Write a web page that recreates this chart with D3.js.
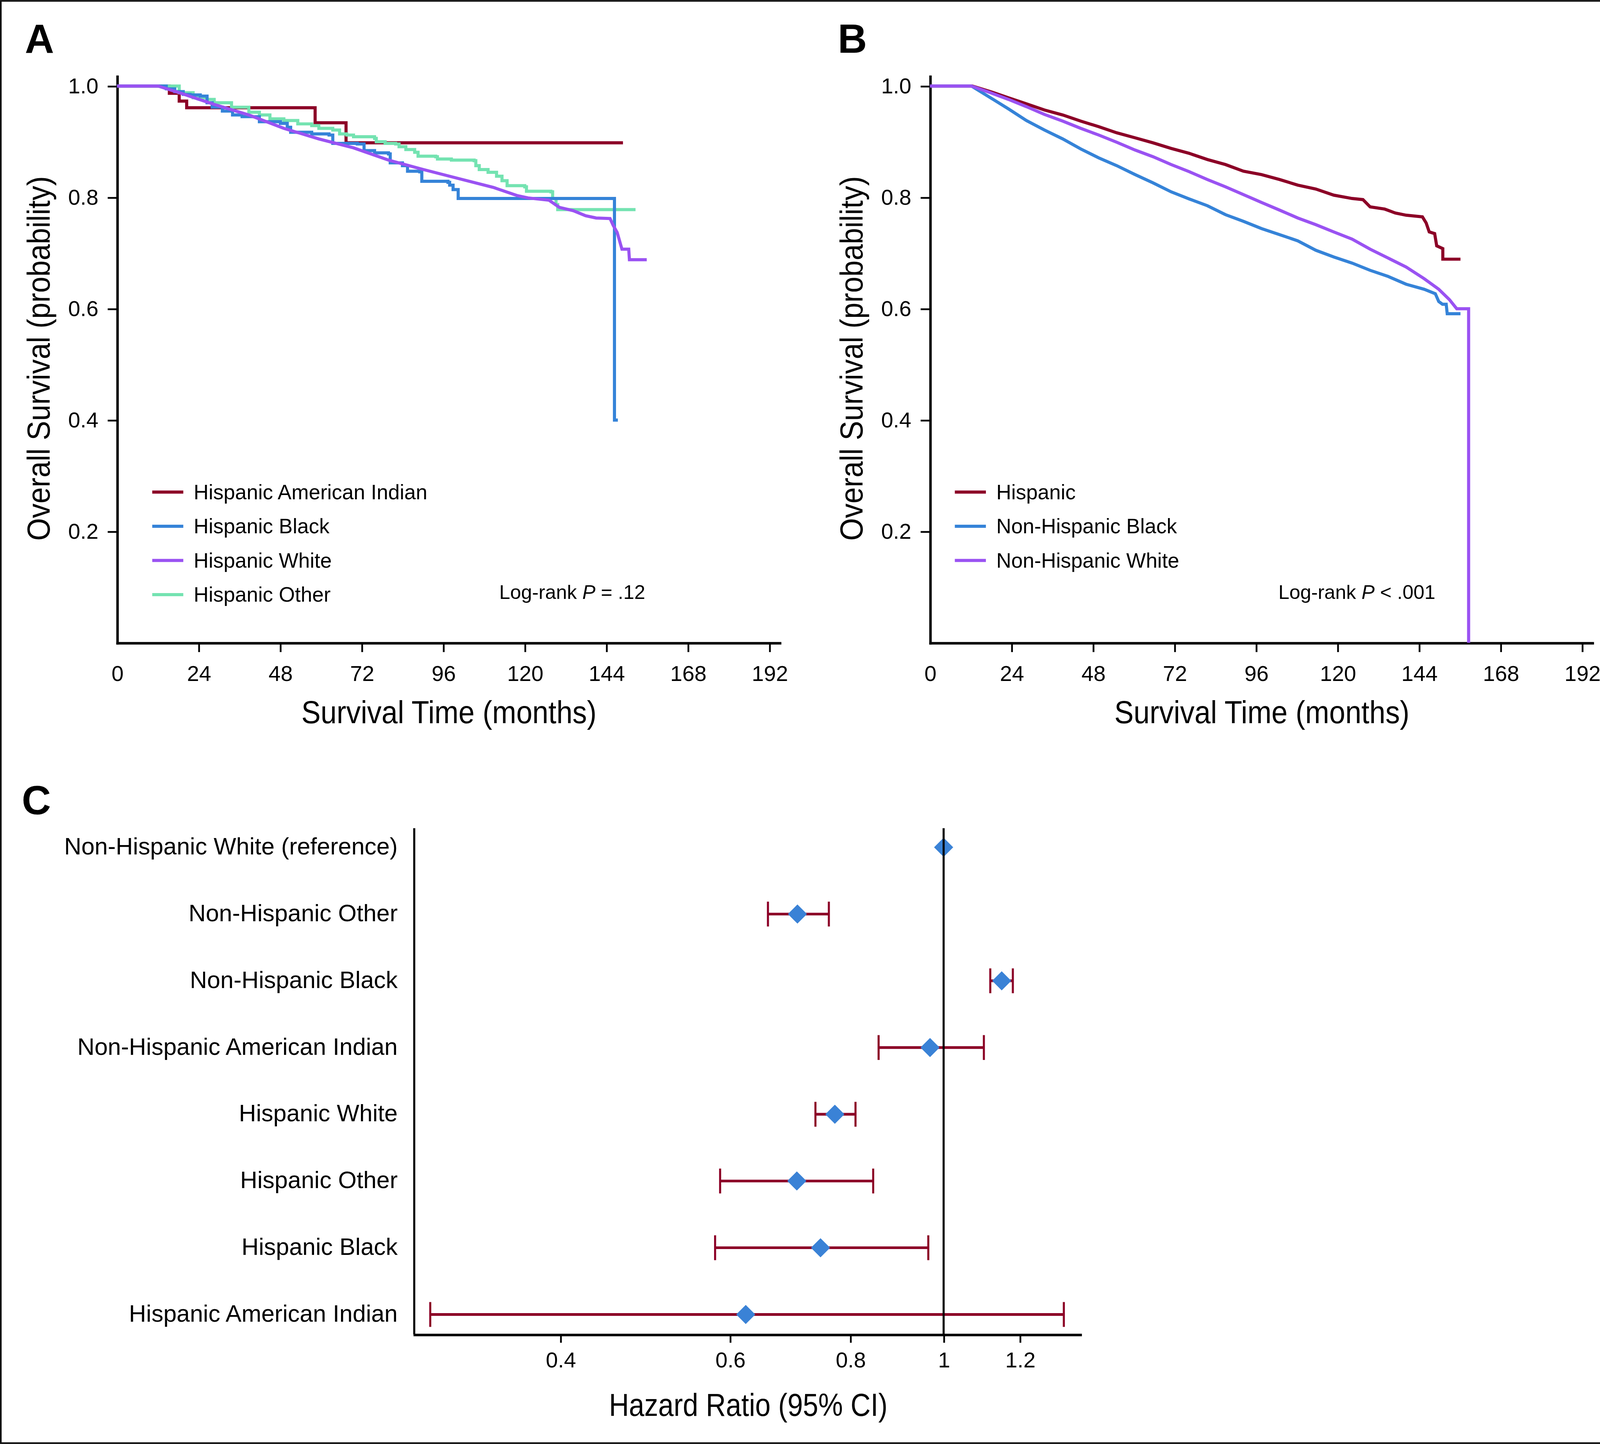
<!DOCTYPE html>
<html lang="en"><head>
<meta charset="utf-8">
<title>Overall survival by ethnicity and race</title>
<script src="https://cdn.jsdelivr.net/npm/d3@7"></script>
<style>
html,body{margin:0;padding:0;background:#fff;overflow:hidden;}
svg{display:block;}
text{font-family:"Liberation Sans",Arial,Helvetica,sans-serif;fill:#000;}
</style>
</head>
<body>
<script>

// ---- panel A: Hispanic subgroups (months, survival) ----
var aIndianT = [0, 15.4, 18.3, 20.5, 58.3, 67.4, 148.9];
var aIndianS = [1.0, 0.987, 0.973, 0.961, 0.934, 0.898, 0.898];

var aBlackT = [0, 12.1, 14.5, 17.0, 19.5, 21.5, 24.5, 26.5, 28.0, 31.0, 34.0, 36.8, 41.9, 48.1, 50.1, 51.1, 57.3, 62.4, 63.5, 70.7,
               72.7, 75.8, 79.9, 80.4, 84.0, 85.5, 89.1, 89.7, 97.4, 97.9, 98.9, 100.4, 146.4, 147.4];
var aBlackS = [1.0, 1.0, 0.995, 0.990, 0.985, 0.984, 0.982, 0.970, 0.962, 0.955, 0.948, 0.945, 0.936, 0.933, 0.926, 0.917, 0.914, 0.912, 0.897, 0.896,
               0.884, 0.880, 0.878, 0.862, 0.857, 0.847, 0.846, 0.829, 0.827, 0.822, 0.814, 0.798, 0.400, 0.400];

var aWhiteT = [0, 12.1, 18.3, 28.6, 38.8, 49.1, 59.4, 69.6, 79.9, 90.2, 100.4, 110.7, 117.9, 121.0, 127.1, 130.2, 134.3, 137.9, 141.0, 145.1,
               146.0, 147.2, 148.6, 150.6, 150.8, 155.9];
var aWhiteS = [1.0, 1.0, 0.988, 0.967, 0.948, 0.924, 0.905, 0.889, 0.867, 0.850, 0.834, 0.818, 0.803, 0.799, 0.795, 0.782, 0.776, 0.767, 0.763, 0.762,
               0.750, 0.737, 0.707, 0.707, 0.688, 0.688];

var aOtherT = [0, 13.1, 18.3, 22.4, 26.5, 28.6, 33.7, 38.8, 41.9, 45.0, 49.1, 53.2, 57.3, 59.4, 63.5, 65.5, 67.6, 69.6, 75.8, 76.3,
               78.9, 82.0, 83.0, 85.0, 87.6, 88.6, 93.8, 94.3, 98.4, 105.1, 105.6, 106.6, 109.2, 111.7, 113.3, 114.8, 120.0, 120.5, 127.7, 128.2,
               129.2, 129.7, 152.6];
var aOtherS = [1.0, 1.0, 0.988, 0.979, 0.976, 0.970, 0.962, 0.953, 0.948, 0.941, 0.938, 0.932, 0.929, 0.924, 0.921, 0.914, 0.912, 0.909, 0.906, 0.900,
               0.897, 0.896, 0.891, 0.886, 0.881, 0.874, 0.873, 0.869, 0.867, 0.866, 0.857, 0.850, 0.845, 0.838, 0.830, 0.821, 0.819, 0.811, 0.810, 0.798,
               0.787, 0.778, 0.778];

// ---- panel B: Hispanic vs non-Hispanic ----
var bHispT = [0, 12.45, 17.8, 23.1, 28.4, 33.7, 39.1, 44.4, 49.7, 55.0, 60.4, 65.7, 71.0, 76.4, 81.7, 87.0, 92.3, 97.6, 103.0, 108.3, 113.6,
              118.9, 124.3, 127.5, 129.6, 133.9, 137.0, 140.2, 145.0, 146.1, 147.0, 148.6, 149.2, 151.0, 151.0, 156.2];
var bHispS = [1.0, 1.0, 0.990, 0.979, 0.968, 0.957, 0.948, 0.937, 0.927, 0.916, 0.907, 0.898, 0.888, 0.879, 0.868, 0.859, 0.847, 0.841, 0.832, 0.822, 0.815,
              0.804, 0.798, 0.796, 0.783, 0.779, 0.772, 0.768, 0.765, 0.754, 0.738, 0.735, 0.713, 0.708, 0.689, 0.689];

var bBlackT = [0, 12.2, 17.8, 23.1, 28.4, 33.7, 39.1, 44.4, 49.7, 55.0, 60.4, 65.7, 71.0, 76.4, 81.7, 87.0, 92.3, 97.6, 103.0, 108.3,
               113.6, 118.9, 124.3, 129.6, 134.9, 140.2, 145.5, 148.8, 149.8, 150.9, 152.0, 152.3, 156.2];
var bBlackS = [1.0, 1.0, 0.979, 0.959, 0.938, 0.921, 0.905, 0.887, 0.871, 0.857, 0.841, 0.826, 0.810, 0.797, 0.785, 0.769, 0.757, 0.744, 0.733, 0.722,
               0.705, 0.693, 0.682, 0.669, 0.658, 0.644, 0.635, 0.627, 0.613, 0.608, 0.608, 0.591, 0.591];

var bWhiteT = [0, 12.2, 17.8, 23.1, 28.4, 33.7, 39.1, 44.4, 49.7, 55.0, 60.4, 65.7, 71.0, 76.4, 81.7, 87.0, 92.3, 97.6, 103.0, 108.3,
               113.6, 118.9, 124.3, 129.6, 134.9, 140.2, 145.5, 149.8, 153.0, 155.1, 158.6, 158.6];
var bWhiteS = [1.0, 1.0, 0.988, 0.976, 0.963, 0.949, 0.937, 0.924, 0.912, 0.899, 0.885, 0.873, 0.859, 0.846, 0.832, 0.819, 0.805, 0.791, 0.777, 0.763,
               0.751, 0.738, 0.725, 0.707, 0.691, 0.675, 0.654, 0.635, 0.616, 0.600, 0.600, 0.0];

var monthTicks = [0, 24, 48, 72, 96, 120, 144, 168, 192];
var survTicks = [0.2, 0.4, 0.6, 0.8, 1.0];

// ---- panel C: hazard ratios ----
var forestLabels = ["Non-Hispanic White (reference)", "Non-Hispanic Other", "Non-Hispanic Black", "Non-Hispanic American Indian",
                    "Hispanic White", "Hispanic Other", "Hispanic Black", "Hispanic American Indian"];
var forestHR   = [1.0, 0.705, 1.149, 0.968, 0.771, 0.704, 0.745, 0.623];
var forestLow  = [null, 0.657, 1.118, 0.856, 0.736, 0.586, 0.579, 0.293];
var forestHigh = [null, 0.760, 1.180, 1.101, 0.810, 0.845, 0.964, 1.333];
var hrTicks = [0.4, 0.6, 0.8, 1, 1.2];

var red = "#8c0027", blue = "#3583d8", purple = "#9a52f2", green = "#74e3b1";

var svg = d3.select("body").append("svg")
    .attr("width", 4157).attr("height", 3696)
    .attr("viewBox", "0 0 1568 1394");

svg.append("rect").attr("x", 0.8).attr("y", 0.8).attr("width", 1566.4).attr("height", 1392.4)
    .attr("fill", "#fff").attr("stroke", "#111").attr("stroke-width", 1.6);

var yS = d3.scaleLinear().domain([0, 1.0177]).range([620.5, 73.5]);

function styleAxis(g) {
    g.attr("font-size", 21);
    g.select(".domain").attr("stroke", "#000").attr("stroke-width", 2.4).attr("stroke-linecap", "square");
    g.selectAll(".tick line").attr("stroke", "#000").attr("stroke-width", 1.7);
}

function kmPanel(cfg) {
    var x = d3.scaleLinear().domain([0, 195]).range([cfg.x0, cfg.x1]);

    var gX = svg.append("g").attr("transform", "translate(0,620.5)")
        .call(d3.axisBottom(x).tickValues(monthTicks).tickSize(9).tickPadding(13).tickSizeOuter(0));
    gX.selectAll(".tick").filter(function(d){ return d === 0; }).select("line").remove();

    var gY = svg.append("g").attr("transform", "translate(" + cfg.x0 + ",0)")
        .call(d3.axisLeft(yS).tickValues(survTicks).tickSize(9).tickPadding(9).tickSizeOuter(0).tickFormat(d3.format(".1f")));

    styleAxis(gX);
    styleAxis(gY);

    cfg.series.forEach(function(s){
        var line = d3.line().x(function(d){ return x(d[0]); }).y(function(d){ return yS(d[1]); })
            .curve(s.step ? d3.curveStepAfter : d3.curveLinear);
        svg.append("path").datum(d3.zip(s.t, s.s)).attr("d", line)
            .attr("fill", "none").attr("stroke", s.color).attr("stroke-width", 3);
    });

    cfg.legend.forEach(function(l, i){
        var y = 475 + 33 * i;
        svg.append("line").attr("x1", cfg.legX).attr("x2", cfg.legX + 30).attr("y1", y).attr("y2", y)
            .attr("stroke", l.color).attr("stroke-width", 3);
        svg.append("text").attr("x", cfg.legX + 40).attr("y", y).attr("dy", "0.35em")
            .attr("font-size", 20).text(l.name);
    });

    var lr = svg.append("text").attr("x", cfg.pX).attr("y", 578).attr("text-anchor", "end").attr("font-size", 19);
    lr.append("tspan").text("Log-rank ");
    lr.append("tspan").attr("font-style", "italic").text("P");
    lr.append("tspan").text(cfg.pText);

    svg.append("text").attr("x", cfg.titleX).attr("y", 698).attr("text-anchor", "middle")
        .attr("font-size", 31).attr("textLength", 285).attr("lengthAdjust", "spacingAndGlyphs")
        .text("Survival Time (months)");
    svg.append("text").attr("transform", "translate(" + cfg.yTitleX + ",346) rotate(-90)")
        .attr("text-anchor", "middle").attr("font-size", 31)
        .attr("textLength", 352).attr("lengthAdjust", "spacingAndGlyphs")
        .text("Overall Survival (probability)");

    svg.append("text").attr("x", cfg.letterX).attr("y", 51).attr("font-size", 39)
        .attr("font-weight", "bold").text(cfg.letter);
}

kmPanel({
    x0: 113, x1: 752.8, titleX: 433.5, yTitleX: 48, letter: "A", letterX: 24,
    legX: 147, pX: 623, pText: " = .12",
    series: [
        {t: aIndianT, s: aIndianS, color: red, step: true},
        {t: aOtherT, s: aOtherS, color: green, step: true},
        {t: aBlackT, s: aBlackS, color: blue, step: true},
        {t: aWhiteT, s: aWhiteS, color: purple, step: false}
    ],
    legend: [
        {name: "Hispanic American Indian", color: red},
        {name: "Hispanic Black", color: blue},
        {name: "Hispanic White", color: purple},
        {name: "Hispanic Other", color: green}
    ]
});

kmPanel({
    x0: 898, x1: 1537.5, titleX: 1218.5, yTitleX: 833, letter: "B", letterX: 809,
    legX: 922, pX: 1386, pText: " < .001",
    series: [
        {t: bHispT, s: bHispS, color: red, step: false},
        {t: bBlackT, s: bBlackS, color: blue, step: false},
        {t: bWhiteT, s: bWhiteS, color: purple, step: false}
    ],
    legend: [
        {name: "Hispanic", color: red},
        {name: "Non-Hispanic Black", color: blue},
        {name: "Non-Hispanic White", color: purple}
    ]
});

// ---- forest plot ----
var hx = d3.scaleLog().domain([0.282, 1.386]).range([400, 1043]);
var fy = d3.scalePoint().domain(forestLabels).range([818, 1269]);
var fTop = 799.5, fBottom = 1288.3;

svg.append("line").attr("x1", 400).attr("x2", 400).attr("y1", fTop).attr("y2", fBottom)
    .attr("stroke", "#000").attr("stroke-width", 2);

var gH = svg.append("g").attr("transform", "translate(0," + fBottom + ")")
    .call(d3.axisBottom(hx).tickValues(hrTicks).tickSize(8).tickPadding(9).tickSizeOuter(0)
          .tickFormat(function(d){ return String(d); }));
styleAxis(gH);

svg.selectAll(".flabel").data(forestLabels).enter().append("text")
    .attr("class", "flabel").attr("x", 384).attr("y", function(d){ return fy(d); })
    .attr("dy", "0.3em").attr("text-anchor", "end").attr("font-size", 23).text(function(d){ return d; });

forestLabels.forEach(function(lab, i){
    if (forestLow[i] === null) return;
    var y = fy(lab);
    svg.append("line").attr("x1", hx(forestLow[i])).attr("x2", hx(forestHigh[i])).attr("y1", y).attr("y2", y)
        .attr("stroke", red).attr("stroke-width", 2.6);
    [forestLow[i], forestHigh[i]].forEach(function(v){
        svg.append("line").attr("x1", hx(v)).attr("x2", hx(v)).attr("y1", y - 12).attr("y2", y + 12)
            .attr("stroke", red).attr("stroke-width", 2);
    });
});

svg.selectAll(".diamond").data(forestLabels).enter().append("path")
    .attr("class", "diamond")
    .attr("d", d3.symbol(d3.symbolSquare, 171))
    .attr("transform", function(d, i){ return "translate(" + hx(forestHR[i]) + "," + fy(d) + ") rotate(45)"; })
    .attr("fill", "#3a82d6");

svg.append("line").attr("x1", hx(1)).attr("x2", hx(1)).attr("y1", fTop).attr("y2", fBottom)
    .attr("stroke", "#000").attr("stroke-width", 2);

svg.append("text").attr("x", 722.5).attr("y", 1367).attr("text-anchor", "middle")
    .attr("font-size", 31).attr("textLength", 269).attr("lengthAdjust", "spacingAndGlyphs")
    .text("Hazard Ratio (95% CI)");

svg.append("text").attr("x", 21).attr("y", 786).attr("font-size", 39).attr("font-weight", "bold").text("C");

</script>
</body>
</html>
